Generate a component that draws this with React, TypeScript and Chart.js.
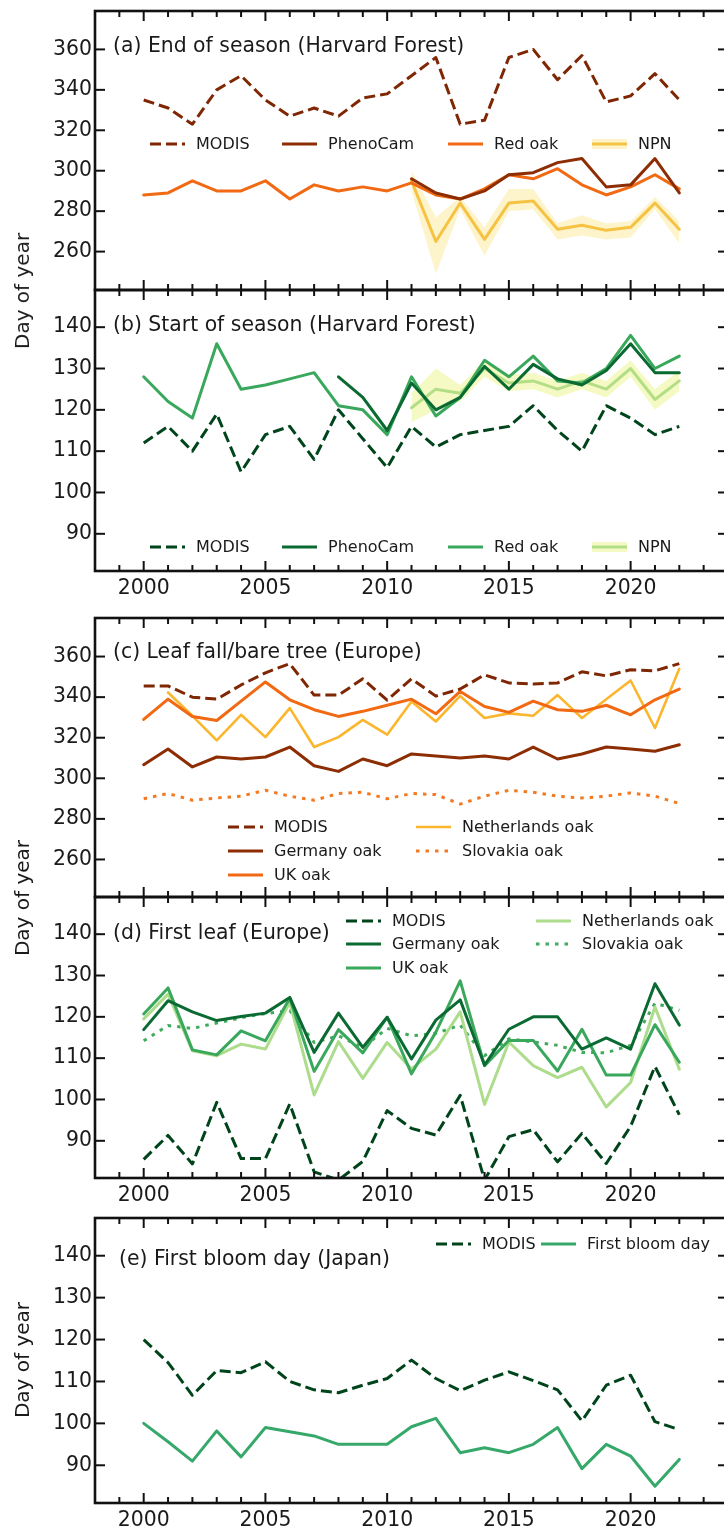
import React, { useEffect, useRef } from 'react';
import { Chart, registerables } from 'chart.js';
Chart.register(...registerables);

// ---------- data ----------
const YEARS = [2000, 2001, 2002, 2003, 2004, 2005, 2006, 2007, 2008, 2009, 2010, 2011, 2012, 2013, 2014, 2015, 2016, 2017, 2018, 2019, 2020, 2021, 2022];
const YEARS_2011 = [2011, 2012, 2013, 2014, 2015, 2016, 2017, 2018, 2019, 2020, 2021, 2022];
const YEARS_2008 = [2008, 2009, 2010, 2011, 2012, 2013, 2014, 2015, 2016, 2017, 2018, 2019, 2020, 2021, 2022];
const X_TICKS = [2000, 2005, 2010, 2015, 2020];
const Y_TICKS_AUTUMN = [260, 280, 300, 320, 340, 360];
const Y_TICKS_SPRING = [90, 100, 110, 120, 130, 140];

// (a) End of season (Harvard Forest)
const A_MODIS = [335, 331, 323, 340, 347, 335, 327, 331, 327, 336, 338, 347, 356, 323, 325, 356, 360, 345, 357, 334, 337, 348, 335];
const A_REDOAK = [288, 289, 295, 290, 290, 295, 286, 293, 290, 292, 290, 294, 288, 286, 291, 298, 296, 301, 293, 288, 292, 298, 291];
const A_PHENOCAM = [296, 289, 286, 290, 298, 299, 304, 306, 292, 293, 306, 289];
const A_NPN = [295, 265, 284, 266, 284, 285, 271, 273, 270.5, 272, 284, 271];
const A_NPN_HI = [300, 277, 287, 272, 291, 291, 274, 278, 274, 275, 287, 275];
const A_NPN_LO = [290, 249, 281, 258, 280, 281, 266, 268, 266, 267, 281, 264];

// (b) Start of season (Harvard Forest)
const B_MODIS = [112, 116, 110, 119, 105, 114, 116, 108, 120, 113, 106, 116, 111, 114, 115, 116, 121, 115, 110, 121, 118, 114, 116];
const B_REDOAK = [128, 122, 118, 136, 125, 126, 127.5, 129, 121, 120, 114, 128, 118.5, 123, 132, 128, 133, 127, 126.5, 130, 138, 130, 133];
const B_PHENOCAM = [128, 123, 115, 126.5, 120, 123, 130.5, 125, 131, 127.5, 126, 129.5, 136, 129, 129];
const B_NPN = [120.5, 125, 124, 130, 126.5, 127, 125, 127, 125, 130, 122.5, 127];
const B_NPN_HI = [124, 130, 126, 132, 128.5, 129, 127, 129, 127, 132, 125, 129.5];
const B_NPN_LO = [117, 120, 122, 128, 124.5, 125, 123, 125, 123, 128, 120, 124.5];

// (c) Leaf fall/bare tree (Europe)
const C_MODIS = [345.5, 345.5, 340, 339, 346, 352, 356.5, 341, 341, 349, 338.5, 349, 340.5, 344, 351, 347, 346.5, 347, 352.5, 350.5, 353.5, 353, 356.5];
const C_GERMANY = [306.7, 314.4, 305.6, 310.5, 309.5, 310.5, 315.4, 306.2, 303.4, 309.5, 306.2, 312, 311, 310, 311, 309.5, 315.4, 309.5, 312, 315.4, 314.4, 313.3, 316.5];
const C_UK = [329, 339, 330.5, 328.5, 338, 347.5, 338.7, 333.8, 330.5, 333, 336, 339, 331.8, 342.8, 335.4, 332.5, 338, 333.8, 333, 336, 331.3, 338.7, 344];
const C_NETHERLANDS = [null, 342.3, 330.8, 318.7, 331.3, 320.3, 334.6, 315.4, 320.3, 328.8, 321.5, 337.9, 328, 340.6, 329.7, 332, 330.8, 341, 329.7, 339, 348.2, 324.8, 354];
const C_SLOVAKIA = [289.9, 292.5, 289.2, 290.3, 291.2, 294.1, 291.2, 289.2, 292.5, 293.1, 289.9, 292.5, 292, 287.3, 291.2, 294.1, 293.1, 291.2, 290.3, 291.2, 292.8, 291.2, 287.6];

// (d) First leaf (Europe)
const D_MODIS = [85.5, 91.3, 84.4, 99.3, 85.7, 85.7, 98.9, 82.5, 80.5, 85, 97.3, 93, 91.4, 101, 80.5, 91, 92.7, 84.9, 91.8, 84.5, 93.5, 108, 96.3];
const D_GERMANY = [116.9, 123.9, 121.2, 119.1, 120.1, 120.9, 124.7, 111.4, 120.9, 112.6, 119.9, 109.8, 119.2, 124.1, 108.3, 117, 120, 120, 112.2, 114.9, 112.2, 128, 118];
const D_UK = [120.7, 127, 112, 110.8, 116.6, 114.2, 124.5, 106.8, 116.9, 111.3, 119.9, 106.2, 116.3, 128.7, 108.2, 114.3, 114.3, 106.9, 117, 105.9, 105.9, 118.1, 109];
const D_NETHERLANDS = [119.5, 125.5, 111.8, 110.6, 113.4, 112.2, 123.5, 101.1, 114, 105.1, 113.8, 107.4, 112.2, 121.2, 98.8, 113.9, 108.2, 105.3, 107.8, 98.2, 104.1, 122.4, 107.3];
const D_SLOVAKIA = [114.2, 117.9, 117.2, 118.5, 119.8, 120.8, 121.5, 113.8, 115.4, 112.6, 117.2, 115.4, 116, 118, 110.6, 114.7, 113.9, 113.1, 111.4, 111.3, 113.1, 123.3, 121.6];

// (e) First bloom day (Japan)
const E_MODIS = [120, 114.5, 106.7, 112.6, 112.1, 114.7, 110, 108, 107.3, 109.1, 110.7, 115.1, 110.7, 107.8, 110.3, 112.3, 110.2, 108, 100.6, 109.1, 111.5, 100.4, 98.5];
const E_BLOOM = [100, 95.6, 91, 98.2, 92, 99, 98, 97, 95, 95, 95, 99.2, 101.2, 93, 94.2, 93, 95, 99, 89.2, 95, 92.2, 85, 91.4];

// ---------- styling ----------
const FONT = '"DejaVu Sans", "Liberation Sans", sans-serif';
const TEXT = '#1a1a1a';
const DASH = [11, 5];
const DOT = [3.5, 6];
const CANVAS_W = 740;

const pts = (years: number[], vals: (number | null)[]) =>
  years.map((x, i) => ({ x, y: vals[i] })).filter((p) => p.y !== null && p.y !== undefined);

const line = (label: string, years: number[], vals: (number | null)[], color: string, dash: number[] = [], width = 3) => ({
  label,
  data: pts(years, vals),
  borderColor: color,
  backgroundColor: color,
  borderWidth: width,
  borderDash: dash,
  borderCapStyle: dash.length ? 'butt' : 'round',
  borderJoinStyle: 'round',
  pointRadius: 0,
  pointHoverRadius: 0,
  tension: 0,
  fill: false,
});

const band = (label: string, years: number[], vals: number[], color: string, fillTo: any) => ({
  label,
  data: pts(years, vals),
  borderColor: 'rgba(0,0,0,0)',
  backgroundColor: color,
  borderWidth: 1,
  pointRadius: 0,
  pointHoverRadius: 0,
  tension: 0,
  fill: fillTo,
});

// ---------- decoration plugin: frame, inward ticks, panel title, legend ----------
const decorPlugin = {
  id: 'decor',
  afterDraw(chart: any, _args: any, opts: any) {
    const { ctx, chartArea: ca, scales } = chart;
    const xs = scales.x;
    const ys = scales.y;
    ctx.save();
    ctx.strokeStyle = '#111';
    ctx.lineWidth = 2;
    ctx.setLineDash([]);
    const seg = (x1: number, y1: number, x2: number, y2: number) => {
      ctx.beginPath();
      ctx.moveTo(x1, y1);
      ctx.lineTo(x2, y2);
      ctx.stroke();
    };
    for (let yr = Math.ceil(xs.min); yr <= Math.floor(xs.max); yr++) {
      const px = xs.getPixelForValue(yr);
      if (px <= ca.left + 1 || px >= ca.right - 1) continue;
      const len = yr % 5 === 0 ? 10 : 6;
      seg(px, ca.top, px, ca.top + len);
      seg(px, ca.bottom, px, ca.bottom - len);
    }
    for (const t of ys.ticks) {
      const py = ys.getPixelForValue(t.value);
      seg(ca.left, py, ca.left + 10, py);
      seg(ca.right, py, ca.right - 10, py);
    }
    ctx.lineWidth = 2.6;
    ctx.strokeRect(ca.left, ca.top, ca.right - ca.left, ca.bottom - ca.top);

    // title
    if (opts.title) {
      ctx.fillStyle = TEXT;
      ctx.font = `20.4px ${FONT}`;
      ctx.textAlign = 'left';
      ctx.textBaseline = 'middle';
      ctx.fillText(opts.title.text, opts.title.x, opts.title.y);
    }
    // legend
    const datasets = chart.data.datasets;
    for (const e of opts.legend || []) {
      const ds = datasets[e.ds];
      const x0 = e.x;
      const x1 = e.x + 35;
      if (e.band !== undefined) {
        const b = datasets[e.band];
        ctx.strokeStyle = b.backgroundColor;
        ctx.lineWidth = 10;
        ctx.setLineDash([]);
        ctx.lineCap = 'butt';
        seg(x0, e.y, x1, e.y);
      }
      ctx.strokeStyle = ds.borderColor;
      ctx.lineWidth = ds.borderWidth;
      ctx.setLineDash(ds.borderDash || []);
      ctx.lineCap = 'butt';
      seg(x0, e.y, x1, e.y);
      ctx.setLineDash([]);
      ctx.fillStyle = TEXT;
      ctx.font = `16px ${FONT}`;
      ctx.textAlign = 'left';
      ctx.textBaseline = 'middle';
      ctx.fillText(ds.label, x1 + 11, e.y + 0.5);
    }
    ctx.restore();
  },
};

type PanelCfg = {
  top: number;
  height: number;
  padTop: number;
  padBottom: number;
  xHeight: number;
  showX: boolean;
  yMin: number;
  yMax: number;
  yTicks: number[];
  datasets: any[];
  title: { text: string; x: number; y: number };
  legend: any[];
};

function Panel({ cfg }: { cfg: PanelCfg }) {
  const ref = useRef<HTMLCanvasElement | null>(null);
  useEffect(() => {
    if (!ref.current) return;
    const tickFont = { family: FONT, size: 20.4 };
    const chart = new Chart(ref.current, {
      type: 'line',
      data: { datasets: cfg.datasets },
      plugins: [decorPlugin],
      options: {
        animation: false,
        responsive: false,
        maintainAspectRatio: false,
        events: [],
        layout: { padding: { top: cfg.padTop, bottom: cfg.padBottom, left: 0, right: CANVAS_W - 728 } },
        plugins: {
          legend: { display: false },
          tooltip: { enabled: false },
          decor: { title: cfg.title, legend: cfg.legend },
        } as any,
        scales: {
          x: {
            type: 'linear',
            min: 1998,
            max: 2024,
            grid: { display: false, drawTicks: false },
            border: { display: false },
            ticks: {
              display: cfg.showX,
              font: tickFont,
              color: TEXT,
              padding: 5,
              maxRotation: 0,
              autoSkip: false,
              callback: (v: any) => String(v),
            },
            afterBuildTicks: (s: any) => {
              s.ticks = X_TICKS.map((v) => ({ value: v }));
            },
            afterFit: (s: any) => {
              s.height = cfg.xHeight;
              s.paddingLeft = 0;
              s.paddingRight = 0;
            },
          },
          y: {
            type: 'linear',
            min: cfg.yMin,
            max: cfg.yMax,
            grid: { display: false, drawTicks: false },
            border: { display: false },
            ticks: { font: tickFont, color: TEXT, padding: 3, autoSkip: false, callback: (v: any) => String(v) },
            afterBuildTicks: (s: any) => {
              s.ticks = cfg.yTicks.map((v) => ({ value: v }));
            },
            afterFit: (s: any) => {
              s.width = 95;
              s.paddingTop = 0;
              s.paddingBottom = 0;
            },
          },
        },
      } as any,
    });
    return () => chart.destroy();
  }, [cfg]);
  return (
    <canvas
      ref={ref}
      width={CANVAS_W}
      height={cfg.height}
      style={{ position: 'absolute', left: 0, top: cfg.top, width: CANVAS_W, height: cfg.height }}
    />
  );
}

// colours
const O_MODIS = '#7f2704';
const O_DARK = '#8c2d04';
const O_MID = '#f16913';
const O_NPN = '#f6c243';
const O_NPN_BAND = 'rgba(253,230,140,0.45)';
const O_NL = '#fbb62e';
const O_SK = '#f47a22';
const G_MODIS = '#00441b';
const G_DARK = '#0a6a32';
const G_MID = '#3aa85c';
const G_NPN = '#b4de86';
const G_NPN_BAND = 'rgba(236,246,150,0.55)';
const G_NL = '#acdc8c';
const G_SK = '#41ab5d';
const G_BLOOM = '#36a86a';

const PANELS: PanelCfg[] = [
  {
    top: 0, height: 300, padTop: 11, padBottom: 10, xHeight: 0, showX: false,
    yMin: 241, yMax: 379, yTicks: Y_TICKS_AUTUMN,
    datasets: [
      line('MODIS', YEARS, A_MODIS, O_MODIS, DASH),
      line('PhenoCam', YEARS_2011, A_PHENOCAM, O_DARK),
      line('Red oak', YEARS, A_REDOAK, O_MID),
      line('NPN', YEARS_2011, A_NPN, O_NPN),
      band('NPN range', YEARS_2011, A_NPN_HI, O_NPN_BAND, '+1'),
      band('NPN low', YEARS_2011, A_NPN_LO, O_NPN_BAND, false),
    ],
    title: { text: '(a) End of season (Harvard Forest)', x: 113, y: 46.5 },
    legend: [
      { ds: 0, x: 150, y: 144 },
      { ds: 1, x: 282, y: 144 },
      { ds: 2, x: 448, y: 144 },
      { ds: 3, x: 592, y: 144, band: 4 },
    ],
  },
  {
    top: 280, height: 320, padTop: 10, padBottom: 0, xHeight: 29, showX: true,
    yMin: 81, yMax: 149, yTicks: Y_TICKS_SPRING,
    datasets: [
      line('MODIS', YEARS, B_MODIS, G_MODIS, DASH),
      line('PhenoCam', YEARS_2008, B_PHENOCAM, G_DARK),
      line('Red oak', YEARS, B_REDOAK, G_MID),
      line('NPN', YEARS_2011, B_NPN, G_NPN),
      band('NPN range', YEARS_2011, B_NPN_HI, G_NPN_BAND, '+1'),
      band('NPN low', YEARS_2011, B_NPN_LO, G_NPN_BAND, false),
    ],
    title: { text: '(b) Start of season (Harvard Forest)', x: 113, y: 326 - 280 },
    legend: [
      { ds: 0, x: 150, y: 547 - 280 },
      { ds: 1, x: 282, y: 547 - 280 },
      { ds: 2, x: 448, y: 547 - 280 },
      { ds: 3, x: 592, y: 547 - 280, band: 4 },
    ],
  },
  {
    top: 605, height: 300, padTop: 13, padBottom: 8, xHeight: 0, showX: false,
    yMin: 241.5, yMax: 379, yTicks: Y_TICKS_AUTUMN,
    datasets: [
      line('MODIS', YEARS, C_MODIS, O_MODIS, DASH),
      line('Germany oak', YEARS, C_GERMANY, O_DARK),
      line('UK oak', YEARS, C_UK, O_MID),
      line('Netherlands oak', YEARS, C_NETHERLANDS, O_NL, [], 2.6),
      line('Slovakia oak', YEARS, C_SLOVAKIA, O_SK, DOT),
    ],
    title: { text: '(c) Leaf fall/bare tree (Europe)', x: 113, y: 653 - 605 },
    legend: [
      { ds: 0, x: 228, y: 827 - 605 },
      { ds: 3, x: 416, y: 827 - 605 },
      { ds: 1, x: 228, y: 851 - 605 },
      { ds: 4, x: 416, y: 851 - 605 },
      { ds: 2, x: 228, y: 875 - 605 },
    ],
  },
  {
    top: 890, height: 320, padTop: 7, padBottom: 0, xHeight: 32, showX: true,
    yMin: 81, yMax: 149, yTicks: Y_TICKS_SPRING,
    datasets: [
      line('MODIS', YEARS, D_MODIS, G_MODIS, DASH),
      line('Germany oak', YEARS, D_GERMANY, G_DARK),
      line('UK oak', YEARS, D_UK, G_MID),
      line('Netherlands oak', YEARS, D_NETHERLANDS, G_NL),
      line('Slovakia oak', YEARS, D_SLOVAKIA, G_SK, DOT),
    ],
    title: { text: '(d) First leaf (Europe)', x: 113, y: 934 - 890 },
    legend: [
      { ds: 0, x: 346, y: 921 - 890 },
      { ds: 3, x: 536, y: 921 - 890 },
      { ds: 1, x: 346, y: 944 - 890 },
      { ds: 4, x: 536, y: 944 - 890 },
      { ds: 2, x: 346, y: 968 - 890 },
    ],
  },
  {
    top: 1205, height: 329, padTop: 13, padBottom: 0, xHeight: 31, showX: true,
    yMin: 81, yMax: 149, yTicks: Y_TICKS_SPRING,
    datasets: [
      line('MODIS', YEARS, E_MODIS, G_MODIS, DASH),
      line('First bloom day', YEARS, E_BLOOM, G_BLOOM),
    ],
    title: { text: '(e) First bloom day (Japan)', x: 119, y: 1260 - 1205 },
    legend: [
      { ds: 0, x: 436, y: 1244 - 1205 },
      { ds: 1, x: 541, y: 1244 - 1205 },
    ],
  },
];

const Y_TITLE_CENTERS = [291, 898, 1360];

export default function App() {
  return (
    <div style={{ position: 'absolute', left: 0, top: 0, width: 724, height: 1534, overflow: 'hidden', background: '#fff' }}>
      {PANELS.map((p, i) => (
        <Panel key={i} cfg={p} />
      ))}
      {Y_TITLE_CENTERS.map((y, i) => (
        <div
          key={'yt' + i}
          style={{
            position: 'absolute',
            left: 22,
            top: y,
            transform: 'translate(-50%, -50%) rotate(-90deg)',
            fontFamily: FONT,
            fontSize: 20,
            color: TEXT,
            whiteSpace: 'nowrap',
            lineHeight: 1,
          }}
        >
          Day of year
        </div>
      ))}
    </div>
  );
}
